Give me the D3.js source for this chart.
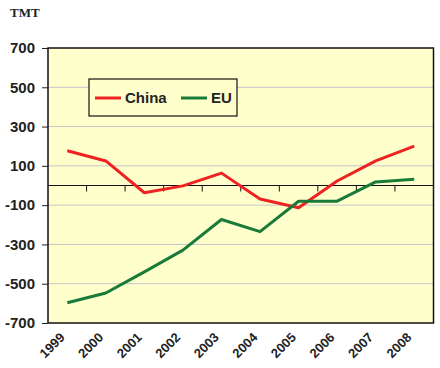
<!DOCTYPE html>
<html><head><meta charset="utf-8">
<script src="https://cdn.jsdelivr.net/npm/d3@7"></script>
<style>body{margin:0;background:#fff}svg{display:block}</style>
</head><body><svg width="440" height="368"></svg>
<script>
const years = ["1999","2000","2001","2002","2003","2004","2005","2006","2007","2008"];
const china = [177, 125, -37, -2, 63, -69, -113, 23, 125, 200];
const eu = [-597, -547, -440, -329, -173, -235, -80, -80, 18, 32];
const yTicks = [700, 500, 300, 100, -100, -300, -500, -700];
const seriesNames = ["China", "EU"];
const colors = ["#ee2222", "#1a7a3a"];

const svg = d3.select("svg");
const L = 48, R = 433.5, T = 48, B = 323;
const x = d3.scaleBand().domain(years).range([L, R]);
const y = d3.scaleLinear().domain([-700, 700]).range([B, T]);

svg.append("rect").attr("x", L).attr("y", T).attr("width", R - L).attr("height", B - T).attr("fill", "#ffffcc");

// gridlines
svg.append("g").selectAll("line").data(yTicks.filter(d => d !== 700 && d !== -700)).join("line")
  .attr("x1", L).attr("x2", R).attr("y1", d => y(d)).attr("y2", d => y(d))
  .attr("stroke", "#c4c4cc").attr("stroke-width", 1);

// y axis
const ya = svg.append("g").attr("transform", `translate(${L},0)`)
  .call(d3.axisLeft(y).tickValues(yTicks).tickSize(6).tickPadding(7).tickFormat(d => String(d)));
ya.select(".domain").remove();
ya.selectAll("line").attr("stroke", "#222");
ya.selectAll("text").attr("font-family", "Liberation Sans, Arial, sans-serif").attr("font-weight", "bold")
  .attr("font-size", 15).attr("fill", "#222");

// zero axis with ticks at category boundaries
const zx = svg.append("g").attr("transform", `translate(0,${y(0)})`);
zx.append("line").attr("x1", L).attr("x2", R).attr("stroke", "#111").attr("stroke-width", 1.2);
zx.selectAll("line.t").data(years.slice(1)).join("line").attr("class", "t")
  .attr("x1", d => x(d)).attr("x2", d => x(d)).attr("y1", 0).attr("y2", 6).attr("stroke", "#111");

// plot border
svg.append("rect").attr("x", L).attr("y", T).attr("width", R - L).attr("height", B - T)
  .attr("fill", "none").attr("stroke", "#111").attr("stroke-width", 1.5);

// x labels
svg.append("g").selectAll("text").data(years).join("text")
  .attr("transform", d => `translate(${x(d) + x.bandwidth() / 2 - 5},${B + 12}) rotate(-45)`)
  .attr("text-anchor", "end").attr("dy", "0.35em")
  .attr("font-family", "Liberation Sans, Arial, sans-serif").attr("font-weight", "bold")
  .attr("font-size", 13).attr("fill", "#222").text(d => d);

// lines
const line = d3.line().x((d, i) => x(years[i]) + x.bandwidth() / 2).y(d => y(d));
[china, eu].forEach((s, i) => {
  svg.append("path").datum(s).attr("d", line).attr("fill", "none")
    .attr("stroke", colors[i]).attr("stroke-width", 3).attr("stroke-linejoin", "round");
});

// legend
const lg = svg.append("g");
lg.append("rect").attr("x", 89).attr("y", 79).attr("width", 148).attr("height", 37)
  .attr("fill", "#ffffcc").attr("stroke", "#111").attr("stroke-width", 1.2);
const lx = [95, 181];
seriesNames.forEach((n, i) => {
  lg.append("line").attr("x1", lx[i]).attr("x2", lx[i] + 26).attr("y1", 98).attr("y2", 98)
    .attr("stroke", colors[i]).attr("stroke-width", 3);
  lg.append("text").attr("x", lx[i] + 30).attr("y", 98).attr("dy", "0.35em")
    .attr("font-family", "Liberation Sans, Arial, sans-serif").attr("font-weight", "bold")
    .attr("font-size", 15).attr("fill", "#222").text(n);
});

// unit
svg.append("text").attr("x", 10).attr("y", 17).attr("font-family", "Liberation Serif, Times New Roman, serif")
  .attr("font-weight", "bold").attr("font-size", 13).attr("fill", "#222").text("TMT");
</script></body></html>
